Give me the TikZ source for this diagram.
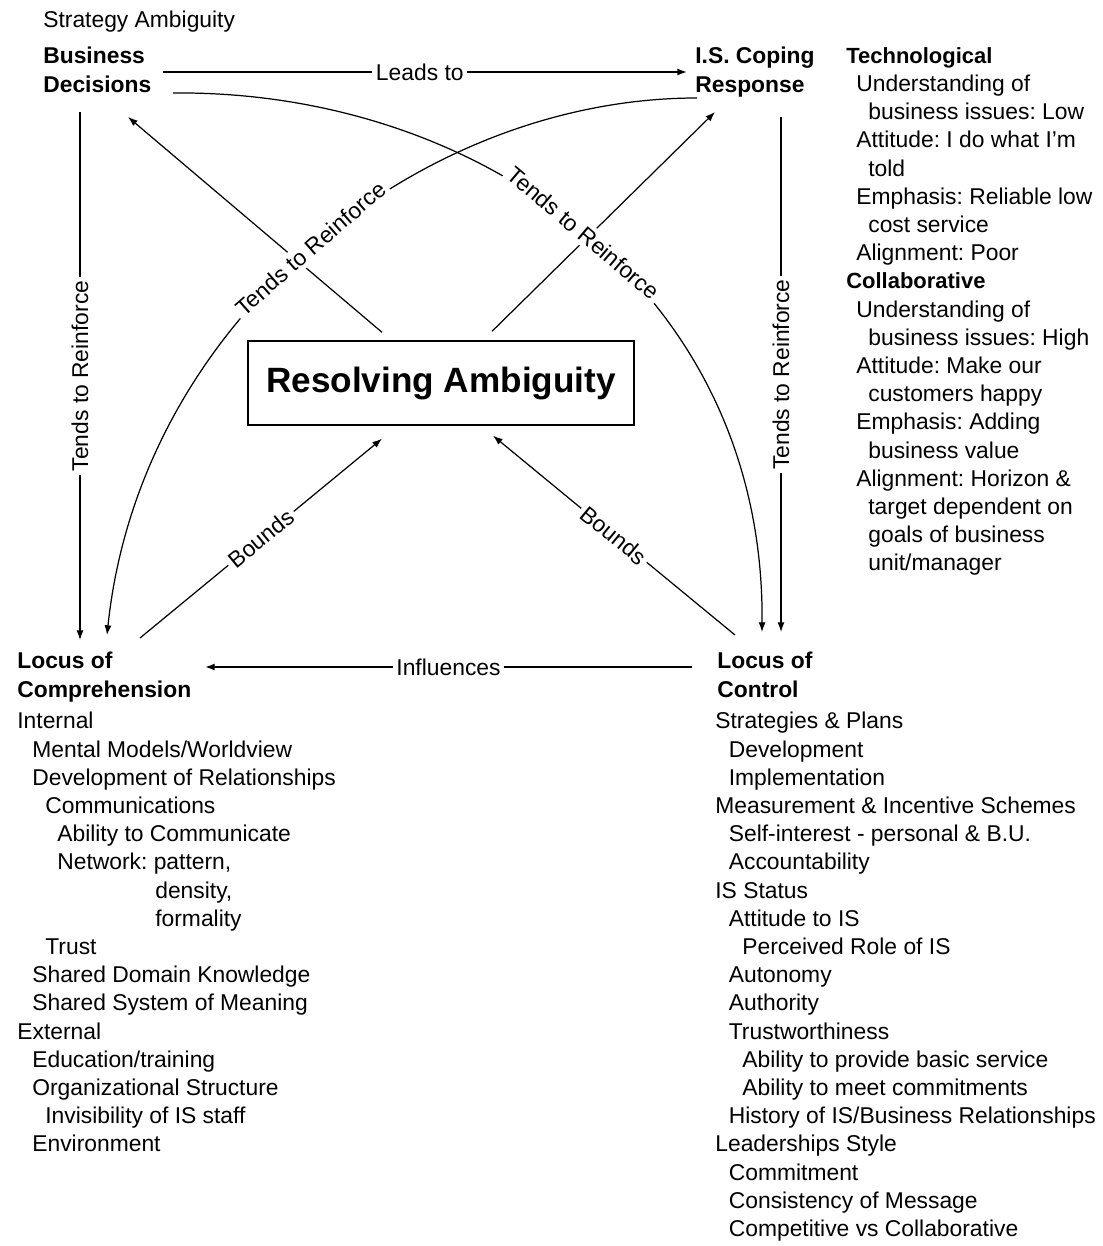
\documentclass[tikz,border=0pt]{standalone}
\usepackage{fontspec}
\setmainfont{Liberation Sans}
\usetikzlibrary{arrows.meta}
\frenchspacing

\newcommand{\headtxt}[1]{{\fontsize{12.5}{16.05}\selectfont\bfseries #1}}

\begin{document}
\begin{tikzpicture}[x=0.02cm, y=-0.02cm,
		every node/.style={inner sep=0pt},
		txt/.style={font=\fontsize{13}{16.05}\selectfont, align=left, anchor=north west},
		head/.style={font=\fontsize{13}{16.05}\selectfont\bfseries, align=left, anchor=north west},
		lbl/.style={font=\fontsize{13}{16}\selectfont, fill=white, inner sep=2pt},
		link/.style={line width=0.7pt, -{Latex[length=5.5pt,width=4pt]}}]
			\useasboundingbox (0,0) rectangle (1102,1246);
			
			% -- Corner headings --
			\node[txt] (sa) at (43,11) {Strategy Ambiguity};
			\node[head] (bd) at (43,47) {Business\\Decisions};
			\node[head] (isc) at (695,47) {I.S. Coping\\Response};
			\node[head] (lcomp) at (17,652) {Locus of\\Comprehension};
			\node[head] (lctrl) at (717,652) {Locus of\\Control};
			
			% -- Central box --
			\node[draw, line width=0.8pt, minimum width=7.72cm, minimum height=1.68cm,
				font=\fontsize{20}{24}\selectfont\bfseries] (ra) at (441,383) {Resolving Ambiguity};
			
			% -- Coping response types --
			\node[txt] (tech) at (846,47) {\headtxt{Technological}\\
				\hspace*{0.2cm}Understanding of\\
				\hspace*{0.44cm}business issues: Low\\
				\hspace*{0.2cm}Attitude: I do what I'm\\
				\hspace*{0.44cm}told\\
				\hspace*{0.2cm}Emphasis: Reliable low\\
				\hspace*{0.44cm}cost service\\
				\hspace*{0.2cm}Alignment: Poor\\
				\headtxt{Collaborative}\\
				\hspace*{0.2cm}Understanding of\\
				\hspace*{0.44cm}business issues: High\\
				\hspace*{0.2cm}Attitude: Make our\\
				\hspace*{0.44cm}customers happy\\
				\hspace*{0.2cm}Emphasis: Adding\\
				\hspace*{0.44cm}business value\\
				\hspace*{0.2cm}Alignment: Horizon \&\\
				\hspace*{0.44cm}target dependent on\\
				\hspace*{0.44cm}goals of business\\
				\hspace*{0.44cm}unit/manager};
			
			% -- Comprehension factors --
			\node[txt] (clist) at (17,712) {Internal\\
				\hspace*{0.3cm}Mental Models/Worldview\\
				\hspace*{0.3cm}Development of Relationships\\
				\hspace*{0.56cm}Communications\\
				\hspace*{0.8cm}Ability to Communicate\\
				\hspace*{0.8cm}Network: pattern,\\
				\hspace*{2.76cm}density,\\
				\hspace*{2.76cm}formality\\
				\hspace*{0.56cm}Trust\\
				\hspace*{0.3cm}Shared Domain Knowledge\\
				\hspace*{0.3cm}Shared System of Meaning\\
				External\\
				\hspace*{0.3cm}Education/training\\
				\hspace*{0.3cm}Organizational Structure\\
				\hspace*{0.56cm}Invisibility of IS staff\\
				\hspace*{0.3cm}Environment};
			
			% -- Control factors --
			\node[txt] (rlist) at (715,712) {Strategies \& Plans\\
				\hspace*{0.27cm}Development\\
				\hspace*{0.27cm}Implementation\\
				Measurement \& Incentive Schemes\\
				\hspace*{0.27cm}Self-interest - personal \& B.U.\\
				\hspace*{0.27cm}Accountability\\
				IS Status\\
				\hspace*{0.27cm}Attitude to IS\\
				\hspace*{0.54cm}Perceived Role of IS\\
				\hspace*{0.27cm}Autonomy\\
				\hspace*{0.27cm}Authority\\
				\hspace*{0.27cm}Trustworthiness\\
				\hspace*{0.54cm}Ability to provide basic service\\
				\hspace*{0.54cm}Ability to meet commitments\\
				\hspace*{0.27cm}History of IS/Business Relationships\\
				Leaderships Style\\
				\hspace*{0.27cm}Commitment\\
				\hspace*{0.27cm}Consistency of Message\\
				\hspace*{0.27cm}Competitive vs Collaborative};
			
			% -- Horizontal links --
			\draw[link, line width=0.9pt] ([shift={(120,25)}]bd.north west) -- node[lbl, pos=0.49] {Leads to} ([shift={(-8,25)}]isc.north west);
			\draw[link, line width=0.9pt, {Latex[length=5.5pt,width=4pt]}-] ([shift={(188,15)}]lcomp.north west) -- node[lbl, pos=0.5] {Influences} ([shift={(-25,15)}]lctrl.north west);
			
			% -- Vertical links --
			\draw[link] ([shift={(37,65)}]bd.north west) -- node[lbl, rotate=90] {Tends to Reinforce} ([shift={(63,-12)}]lcomp.north west);
			\draw[link] ([shift={(86,70)}]isc.north west) -- node[lbl, rotate=90] {Tends to Reinforce} ([shift={(64,-20)}]lctrl.north west);
			
			% -- Links around the box --
			\draw[link] ([shift={(-59,-8)}]ra.north) -- ([shift={(85,70)}]bd.north west);
			\draw[link] ([shift={(51,-9)}]ra.north) -- ([shift={(20,65)}]isc.north west);
			\draw[link] ([shift={(123,-14)}]lcomp.north west) -- node[lbl, sloped] {Bounds} ([shift={(-59,13)}]ra.south);
			\draw[link] ([shift={(18,-17)}]lctrl.north west) -- node[lbl, sloped] {Bounds} ([shift={(52,10)}]ra.south);
			
			% -- Crossing curves --
			\draw[link] ([shift={(130,46)}]bd.north west) .. controls +(307,-3) and +(3,-342) .. node[lbl, sloped, pos=0.5] {Tends to Reinforce} ([shift={(45,-20)}]lctrl.north west);
			\draw[link] ([shift={(2,51)}]isc.north west) .. controls +(-277,0) and +(33,-315) .. node[lbl, sloped, pos=0.5] {Tends to Reinforce} ([shift={(90,-17)}]lcomp.north west);
		\end{tikzpicture}
\end{document}
